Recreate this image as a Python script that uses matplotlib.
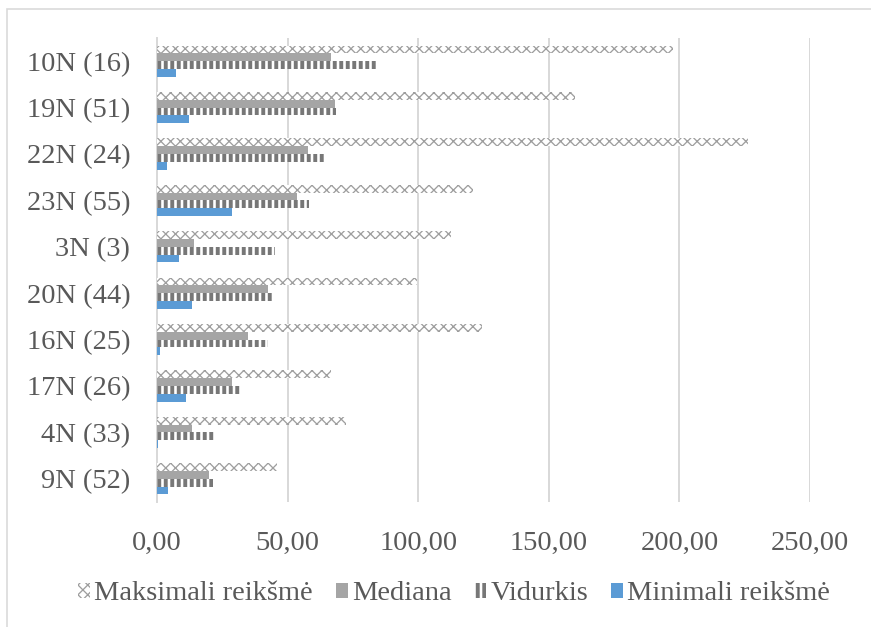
import matplotlib
matplotlib.use("Agg")
import matplotlib as mpl
import matplotlib.pyplot as plt
import numpy as np
from matplotlib.patches import Rectangle

categories = ["10N (16)", "19N (51)", "22N (24)", "23N (55)", "3N (3)",
              "20N (44)", "16N (25)", "17N (26)", "4N (33)", "9N (52)"]
maksimali = [197.5, 160.0, 226.3, 121.0, 112.6, 99.4, 124.4, 66.6, 72.4, 45.8]
mediana = [66.6, 68.2, 57.7, 53.5, 14.2, 42.6, 35.0, 28.6, 13.5, 20.0]
vidurkis = [84.6, 68.4, 63.9, 58.2, 45.2, 44.5, 42.6, 31.8, 21.8, 21.3]
minimali = [7.2, 12.4, 3.7, 28.8, 8.5, 13.5, 1.1, 11.1, 0.3, 4.1]
series_names = ["Maksimali reikšmė", "Mediana", "Vidurkis", "Minimali reikšmė"]
xticks = [0, 50, 100, 150, 200, 250]
xtick_labels = ["0,00", "50,00", "100,00", "150,00", "200,00", "250,00"]

DPI = 117
W, H = 871, 627
fig = plt.figure(figsize=(W / DPI, H / DPI), dpi=DPI)
plt.rcParams['font.family'] = ['Liberation Serif', 'DejaVu Serif']
txt = '#595959'
grid_c = '#d9d9d9'
fs = 17.5


def with_hatch_lw(artist, lw):
    try:
        artist.set_hatch_linewidth(lw)
    except AttributeError:
        pass
    orig = artist.draw

    def draw(renderer, _orig=orig, _lw=lw):
        with mpl.rc_context({'hatch.linewidth': _lw}):
            _orig(renderer)
    artist.draw = draw


ax = fig.add_axes([157 / W, 1 - 502 / H, (810 - 157) / W, (502 - 38) / H])

y = np.arange(len(categories))
h = 0.168
styles = [
    dict(facecolor='white', edgecolor='#9e9e9e', hatch='xxxx', hlw=0.8),
    dict(facecolor='#a5a5a5', edgecolor='#a5a5a5', hatch=None, hlw=None),
    dict(facecolor='white', edgecolor='#777777', hatch='|||', hlw=2.4),
    dict(facecolor='#5b9bd5', edgecolor='#5b9bd5', hatch=None, hlw=None),
]
data = [maksimali, mediana, vidurkis, minimali]
handles = []
for k, (vals, st, name) in enumerate(zip(data, styles, series_names)):
    off = (k - 1.5) * h
    bars = ax.barh(y + off, vals, height=h, facecolor=st['facecolor'],
                   edgecolor=st['edgecolor'], linewidth=0, hatch=st['hatch'],
                   label=name, zorder=3)
    if st['hlw'] is not None:
        for b in bars:
            with_hatch_lw(b, st['hlw'])
    handles.append(bars)

ax.set_xlim(0, 250)
ax.set_ylim(len(categories) - 0.5, -0.5)
ax.set_xticks(xticks)
ax.set_xticklabels(xtick_labels)
ax.set_yticks(y)
ax.set_yticklabels(categories)
ax.tick_params(axis='both', length=0, labelsize=fs, labelcolor=txt)
ax.tick_params(axis='x', pad=17.5)
ax.tick_params(axis='y', pad=16.5)
for s in ['top', 'right', 'bottom']:
    ax.spines[s].set_visible(False)
ax.spines['left'].set_color(grid_c)
ax.spines['left'].set_linewidth(1.2)
ax.xaxis.grid(True, color=grid_c, linewidth=1.2, zorder=0)
ax.set_axisbelow(True)

leg = fig.legend(handles=handles, labels=series_names, loc='center',
                 bbox_to_anchor=(454 / W, 1 - 594 / H), ncol=4, frameon=False,
                 fontsize=fs, handlelength=0.42, handleheight=0.42,
                 handletextpad=0.15, columnspacing=0.8, labelcolor=txt)
for p, st in zip(leg.legend_handles, styles):
    if st['hlw'] is not None:
        with_hatch_lw(p, st['hlw'])

fig.patches.append(Rectangle((7 / W, -0.01), 1.0, 1 - 9 / H + 0.01,
                             transform=fig.transFigure, fill=False,
                             edgecolor=grid_c, linewidth=1.0))

fig.savefig("out.png", dpi=DPI)
